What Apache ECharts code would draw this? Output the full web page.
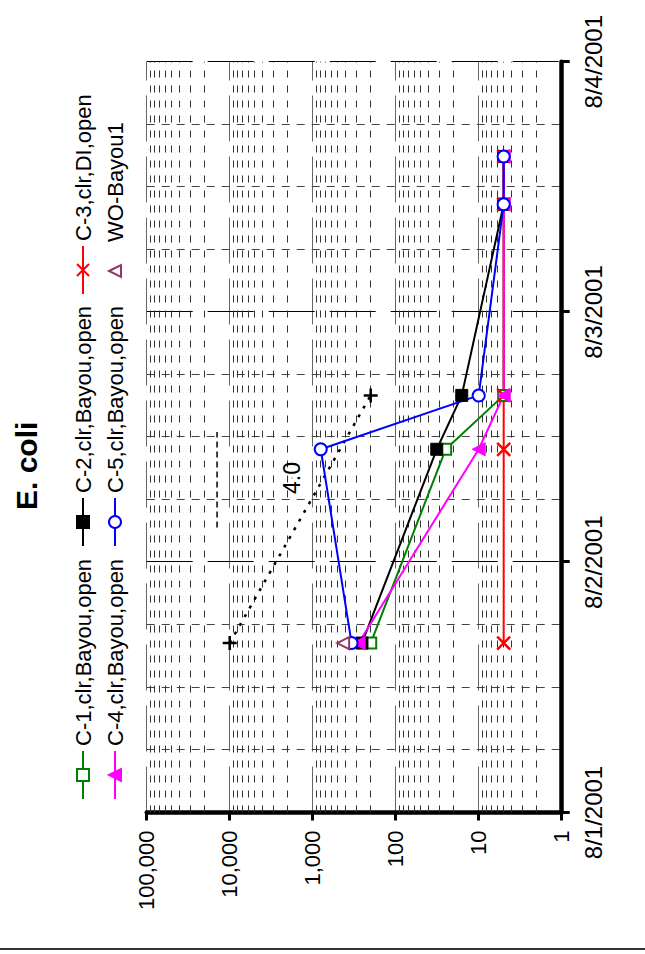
<!DOCTYPE html>
<html>
<head>
<meta charset="utf-8">
<script src="https://cdn.jsdelivr.net/npm/echarts@6/dist/echarts.min.js"></script>
<style>
  html, body { margin: 0; padding: 0; width: 645px; height: 954px; overflow: hidden; background: #fff; }
  /* The chart is laid out landscape and turned a quarter turn counter-clockwise onto the portrait page */
  #chart { position: absolute; left: 0; top: 0; width: 954px; height: 645px;
           transform-origin: 0 0; transform: translate(0, 954px) rotate(-90deg); }
</style>
</head>
<body>
<div id="chart"></div>
<script>
// ---- sampling times and E. coli counts ----
const sampleTimes = ['2001-08-01 16:15', '2001-08-02 10:50', '2001-08-02 16:00', '2001-08-03 10:20', '2001-08-03 14:55'];
const c1Values = [200, 25, 5, 5, 5];
const c2Values = [255, 32, 16, 5, 5];
const c3Values = [5, 5, 5, 5, 5];
const c4Values = [280, 10, 5, 5, 5];
const c5Values = [340, 800, 10, 5, 5];
const woTimes = ['2001-08-01 16:15'];
const woValues = [430];

const seriesNames = ['C-1,clr,Bayou,open', 'C-2,clr,Bayou,open', 'C-3,clr,DI,open',
                     'C-4,clr,Bayou,open', 'C-5,clr,Bayou,open', 'WO-Bayou1'];

// ---- decay trend annotation ----
const trendTimes = ['2001-08-01 16:15', '2001-08-02 16:00'];
const trendValues = [10000, 200];
const trendLabelTime = '2001-08-02 08:05';
const trendLabelValue = 1775;
const trendLabel = '4.0';
const bracketTimes = ['2001-08-02 03:20', '2001-08-02 12:30'];
const bracketValues = [14200, 14200];

// ---- axes ----
const axisStart = '2001-08-01 00:00';
const axisEnd = '2001-08-04 00:00';
const dateLabels = ['8/1/2001', '8/2/2001', '8/3/2001', '8/4/2001'];
const valueLabels = ['1', '10', '100', '1,000', '10,000', '100,000'];
const minorMultipliers = [2, 3, 4, 5, 6, 7, 8, 9];
const decades = [1, 10, 100, 1000, 10000];

const FONT = '"Liberation Sans", Arial, sans-serif';
const DAY = 86400000;

function toMs(s) {
  const parts = s.split(' ');
  const d = parts[0].split('-').map(Number);
  const t = (parts[1] || '0:00').split(':').map(Number);
  return Date.UTC(d[0], d[1] - 1, d[2], t[0], t[1]);
}
function pts(times, vals) { return times.map((t, i) => [toMs(t), vals[i]]); }

const xMin = toMs(axisStart);
const xMax = toMs(axisEnd);

const minorValues = [];
decades.forEach(d => minorMultipliers.forEach(m => minorValues.push(m * d)));

const chart = echarts.init(document.getElementById('chart'), null, { renderer: 'svg' });

function legendAt(name, left, top, extra) {
  return Object.assign({
    data: [name], left: left, top: top, orient: 'horizontal', padding: 0,
    itemWidth: 48, itemHeight: 15, itemGap: 0, selectedMode: false,
    textStyle: { fontSize: 22, fontFamily: FONT, color: '#000' }
  }, extra || {});
}

const option = {
  animation: false,
  backgroundColor: '#fff',
  title: {
    text: 'E. coli', left: 439, top: 6,
    textStyle: { fontSize: 30, fontWeight: 'bold', fontFamily: FONT, color: '#000' }
  },
  legend: [
    legendAt(seriesNames[0], 154, 72),
    legendAt(seriesNames[1], 407, 72),
    legendAt(seriesNames[2], 659, 72),
    legendAt(seriesNames[3], 154, 104),
    legendAt(seriesNames[4], 407, 104),
    legendAt(seriesNames[5], 659, 104, { lineStyle: { opacity: 0 } })
  ],
  grid: { left: 141.5, right: 61.7, top: 146.7, bottom: 83.3, containLabel: false },
  xAxis: {
    type: 'value', min: xMin, max: xMax, interval: DAY,
    axisLine: { show: true, lineStyle: { color: '#000', width: 4.5 } },
    axisTick: { show: true, length: 8, lineStyle: { color: '#000', width: 3 } },
    axisLabel: {
      margin: 20, fontSize: 24, fontFamily: FONT, color: '#000',
      formatter: v => dateLabels[Math.round((v - xMin) / DAY)] || ''
    },
    splitLine: { show: true, lineStyle: { color: '#000', width: 1, type: [46, 15] } },
    minorTick: { show: false, splitNumber: 4 },
    minorSplitLine: { show: true, lineStyle: { color: '#444', width: 1, type: [8, 7] } }
  },
  yAxis: {
    type: 'log', logBase: 10, min: 1, max: 100000,
    axisLine: { show: true, lineStyle: { color: '#000', width: 4.5 } },
    axisTick: { show: true, length: 8, lineStyle: { color: '#000', width: 3 } },
    axisLabel: {
      margin: 18, fontSize: 22, fontFamily: FONT, color: '#000',
      formatter: v => valueLabels[Math.round(Math.log10(v))] || ''
    },
    splitLine: { show: true, lineStyle: { color: '#666', width: 1, type: [46, 15] } }
  },
  graphic: [{
    type: 'line', shape: { x1: 5, y1: 0, x2: 5, y2: 645 },
    style: { stroke: '#333', lineWidth: 2 }, silent: true
  }],
  series: [
    {
      // intermediate log gridlines (2..9 in each decade)
      type: 'line', data: [], silent: true, z: 1,
      markLine: {
        silent: true, z: 1, symbol: 'none', animation: false,
        label: { show: false },
        lineStyle: { color: '#333', width: 1, type: [7, 8] },
        data: minorValues.map(v => ({ yAxis: v }))
      }
    },
    {
      type: 'line', data: pts(trendTimes, trendValues), z: 2,
      symbol: 'path://M5,0L5,10M0,5L10,5', symbolSize: 14,
      itemStyle: { color: '#000', borderColor: '#000', borderWidth: 2.5 },
      lineStyle: { color: '#000', width: 2.5, type: [3, 7] }
    },
    {
      type: 'scatter', data: pts([trendLabelTime], [trendLabelValue]), z: 4,
      symbolSize: 1, itemStyle: { color: '#000', opacity: 1 },
      label: { show: true, position: 'inside', formatter: () => trendLabel,
               fontSize: 23, fontFamily: FONT, color: '#000',
               textBorderWidth: 0, backgroundColor: 'transparent' }
    },
    {
      type: 'line', data: pts(bracketTimes, bracketValues), z: 2, symbol: 'none',
      lineStyle: { color: '#000', width: 1.5, type: [6, 4] }
    },
    {
      name: seriesNames[0], type: 'line', data: pts(sampleTimes, c1Values), z: 3,
      symbol: 'rect', symbolSize: 11,
      lineStyle: { color: '#008000', width: 2 },
      itemStyle: { color: '#fff', borderColor: '#008000', borderWidth: 2 }
    },
    {
      name: seriesNames[1], type: 'line', data: pts(sampleTimes, c2Values), z: 3,
      symbol: 'rect', symbolSize: 12,
      lineStyle: { color: '#000', width: 2 },
      itemStyle: { color: '#000', borderColor: '#000', borderWidth: 1 }
    },
    {
      name: seriesNames[2], type: 'line', data: pts(sampleTimes, c3Values), z: 3,
      symbol: 'path://M0,0L10,10M0,10L10,0', symbolSize: 13,
      lineStyle: { color: '#ff0000', width: 2 },
      itemStyle: { color: '#ff0000', borderColor: '#ff0000', borderWidth: 2.5 }
    },
    {
      name: seriesNames[3], type: 'line', data: pts(sampleTimes, c4Values), z: 3,
      symbol: 'triangle', symbolSize: 13,
      lineStyle: { color: '#ff00ff', width: 2 },
      itemStyle: { color: '#ff00ff', borderColor: '#ff00ff', borderWidth: 1 }
    },
    {
      name: seriesNames[4], type: 'line', data: pts(sampleTimes, c5Values), z: 3,
      symbol: 'circle', symbolSize: 12,
      lineStyle: { color: '#0000ff', width: 2 },
      itemStyle: { color: '#fff', borderColor: '#0000ff', borderWidth: 2 }
    },
    {
      // single grab sample, marker only
      name: seriesNames[5], type: 'line', data: pts(woTimes, woValues), z: 3,
      symbol: 'triangle', symbolSize: 12,
      lineStyle: { width: 0, opacity: 0 },
      itemStyle: { color: '#fff', borderColor: '#993366', borderWidth: 2 }
    }
  ]
};

chart.setOption(option);
</script>
</body>
</html>
